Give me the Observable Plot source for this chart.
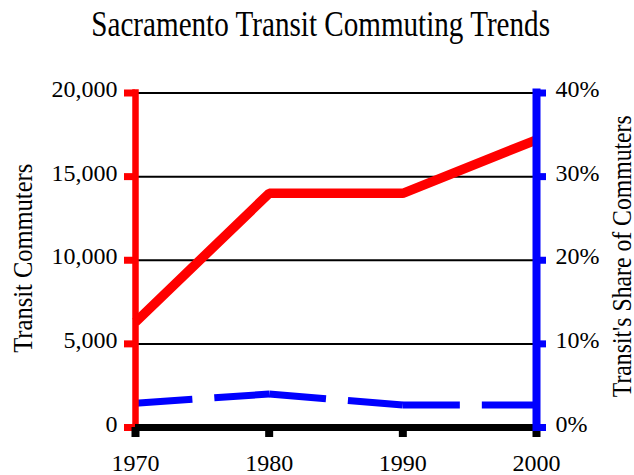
<!DOCTYPE html>
<html><head><meta charset="utf-8">
<script src="https://cdn.jsdelivr.net/npm/d3@7"></script>
<script src="https://cdn.jsdelivr.net/npm/@observablehq/plot@0.6"></script>
<style>
body{margin:0;background:#fff;}
#title{width:634px;height:60px;box-sizing:border-box;padding-top:7px;padding-left:7px;text-align:center;font-family:"Liberation Serif",serif;font-size:35px;line-height:35px;color:#000;}
#title span{display:inline-block;transform:scaleX(0.832);white-space:nowrap;}
</style></head><body>
<div id="title"><span>Sacramento Transit Commuting Trends</span></div>
<div id="chart"></div>
<script>
const years = [1970, 1980, 1990, 2000];
const commuters = [6300, 14000, 14000, 17200];
const transitShare = [2.9, 4.0, 2.7, 2.7];
const leftTicks = [0, 5000, 10000, 15000, 20000];
const rightTicks = [0, 10, 20, 30, 40];
const yearTicks = [1970, 1980, 1990, 2000];
const leftTitle = "Transit Commuters";
const rightTitle = "Transit's Share of Commuters";
const shareMax = 40, commuterMax = 20000;
const k = commuterMax / shareMax;

const rows = years.map((year, i) => ({year, commuters: commuters[i], share: transitShare[i] * k}));
const segs = d3.pairs(rows).map(([a, b]) => ({x1: a.year, y1: a.share, x2: b.year, y2: b.share}));
const x0 = years[0], xN = years[years.length - 1];

const chart = Plot.plot({
  width: 634, height: 415,
  marginTop: 32.5, marginBottom: 48, marginLeft: 135, marginRight: 98,
  style: {fontFamily: "Liberation Serif, serif", background: "white", overflow: "visible", color: "black"},
  x: {domain: [x0, xN]},
  y: {domain: [0, commuterMax]},
  marks: [
    Plot.ruleY(leftTicks, {x1: x0, x2: xN, stroke: "black", strokeWidth: 2}),
    Plot.line(rows, {x: "year", y: "commuters", stroke: "red", strokeWidth: 9.5, strokeLinejoin: "miter", strokeLinecap: "butt"}),
    Plot.link(segs, {x1: "x1", y1: "y1", x2: "x2", y2: "y2", stroke: "blue", strokeWidth: 7, strokeDasharray: "57,22", strokeLinecap: "butt"}),
    Plot.ruleX([x0], {y1: 0, y2: commuterMax, stroke: "red", strokeWidth: 6.5, strokeLinecap: "square"}),
    Plot.axisY(leftTicks, {anchor: "left", tickSize: 11, stroke: "red", strokeWidth: 7, fill: "none", label: null}),
    Plot.axisY(leftTicks, {anchor: "left", tickSize: 0, tickPadding: 18, fill: "black", fontSize: 24, dy: -3.5, tickFormat: d3.format(","), label: null}),
    Plot.ruleY([0], {x1: x0, x2: xN, stroke: "black", strokeWidth: 7}),
    Plot.axisX(yearTicks, {anchor: "bottom", tickSize: 10, tickPadding: 16, stroke: "black", strokeWidth: 8, fill: "black", fontSize: 24, tickFormat: d => String(d), label: null}),
    Plot.ruleX([xN], {y1: 0, y2: commuterMax, stroke: "blue", strokeWidth: 8, strokeLinecap: "square"}),
    Plot.axisY(rightTicks.map(v => v * k), {anchor: "right", tickSize: 9, stroke: "blue", strokeWidth: 7, fill: "none", label: null}),
    Plot.axisY(rightTicks.map(v => v * k), {anchor: "right", tickSize: 0, tickPadding: 19, fill: "black", fontSize: 24, dy: -3.5, tickFormat: d => `${d / k}%`, label: null}),
    Plot.text([leftTitle], {text: d => d, frameAnchor: "left", textAnchor: "middle", rotate: -90, lineAnchor: "bottom", dx: -103.3, dy: -2, fontSize: 28, fill: "black"}),
    Plot.text([rightTitle], {text: d => d, frameAnchor: "right", textAnchor: "middle", rotate: -90, lineAnchor: "bottom", dx: 94.5, dy: -4, fontSize: 28, fill: "black"})
  ]
});
document.getElementById("chart").append(chart);

// condensed serif look for the axis titles
const titleLengths = {[leftTitle]: 189, [rightTitle]: 282};
chart.querySelectorAll("text").forEach(t => {
  const L = titleLengths[t.textContent];
  if (L) { t.setAttribute("textLength", L); t.setAttribute("lengthAdjust", "spacingAndGlyphs"); }
});
</script>
</body></html>
